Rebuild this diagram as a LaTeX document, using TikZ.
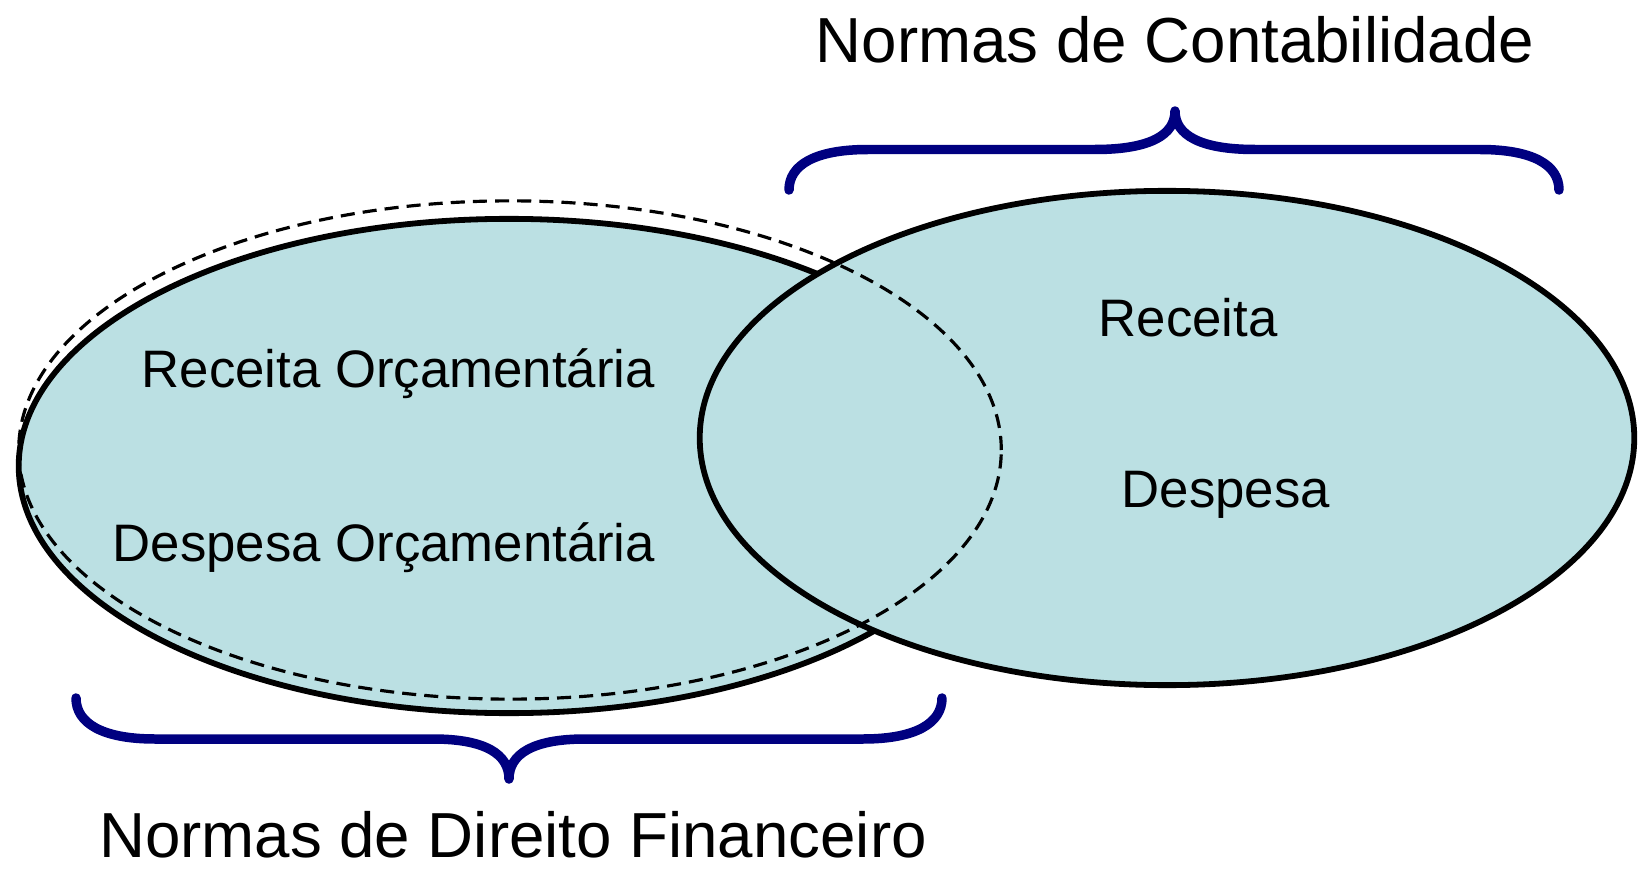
\documentclass[tikz,border=0pt]{standalone}
\usepackage{fontspec}
\setmainfont{Liberation Sans}
\usetikzlibrary{shapes.geometric}
\definecolor{azulclaro}{RGB}{187,224,227}
\definecolor{azulchave}{RGB}{0,0,128}
\newcommand{\Grande}{\fontsize{18.1}{21}\selectfont}
\newcommand{\Medio}{\fontsize{15}{18}\selectfont}
\tikzset{Conjunto/.style={
    ellipse,
    inner sep=0pt,
    draw=black,
    line width=1.65pt,
    fill=azulclaro,
    }
}

\begin{document}
\begin{tikzpicture}[x=0.01cm, y=-0.01cm,
    Tracejado/.style={ellipse, inner sep=0pt, draw=black,
        line width=0.9pt, dash pattern=on 4pt off 2.3pt},
    Chave/.style={draw=azulchave, line width=2.7pt,
        line cap=round, line join=round},
    Rotulo/.style={inner sep=0pt, font=\Medio},
    Titulo/.style={inner sep=0pt, text depth=0pt, font=\Grande},
]
\useasboundingbox (0,0) rectangle (1639,870);
% os dois conjuntos
\node [Conjunto, minimum width=9.8cm, minimum height=4.94cm] (financeiro) at (509,466) {};
\node [Conjunto, minimum width=9.34cm, minimum height=4.94cm] (contabil) at (1167,438) {};
\node [Tracejado, minimum width=9.82cm, minimum height=4.98cm] (orcamento) at (510,450) {};
% textos dentro
\node [Rotulo, anchor=base west] (recorc) at (141,387) {Receita Orçamentária};
\node [Rotulo, anchor=base west] (desorc) at (112,561) {Despesa Orçamentária};
\node [Rotulo, anchor=base west] (rec) at (1098,337) {Receita};
\node [Rotulo, anchor=base west] (des) at (1121,507) {Despesa};
% chaves
\coordinate (topo) at (1175,111);
\coordinate (baixo) at (509,779);
\draw [Chave] (789,190) .. controls (789,165) and (815,149.5) .. (868,149.5)
    -- (1095,149.5) .. controls (1150,149.5) and (1175,135) .. (topo)
    .. controls (1175,135) and (1200,149.5) .. (1255,149.5)
    -- (1480,149.5) .. controls (1533,149.5) and (1559,165) .. (1559,190);
\draw [Chave] (76,698) .. controls (76,723) and (102,739) .. (155,739)
    -- (433,739) .. controls (485,739) and (509,754) .. (baixo)
    .. controls (509,754) and (533,739) .. (585,739)
    -- (863,739) .. controls (916,739) and (942,723) .. (942,698);
% titulos
\node [Titulo, anchor=base] (contab) at (1175,63) {Normas de Contabilidade};
\node [Titulo, anchor=base] (direito) at (513,857) {Normas de Direito Financeiro};
\end{tikzpicture}
\end{document}
